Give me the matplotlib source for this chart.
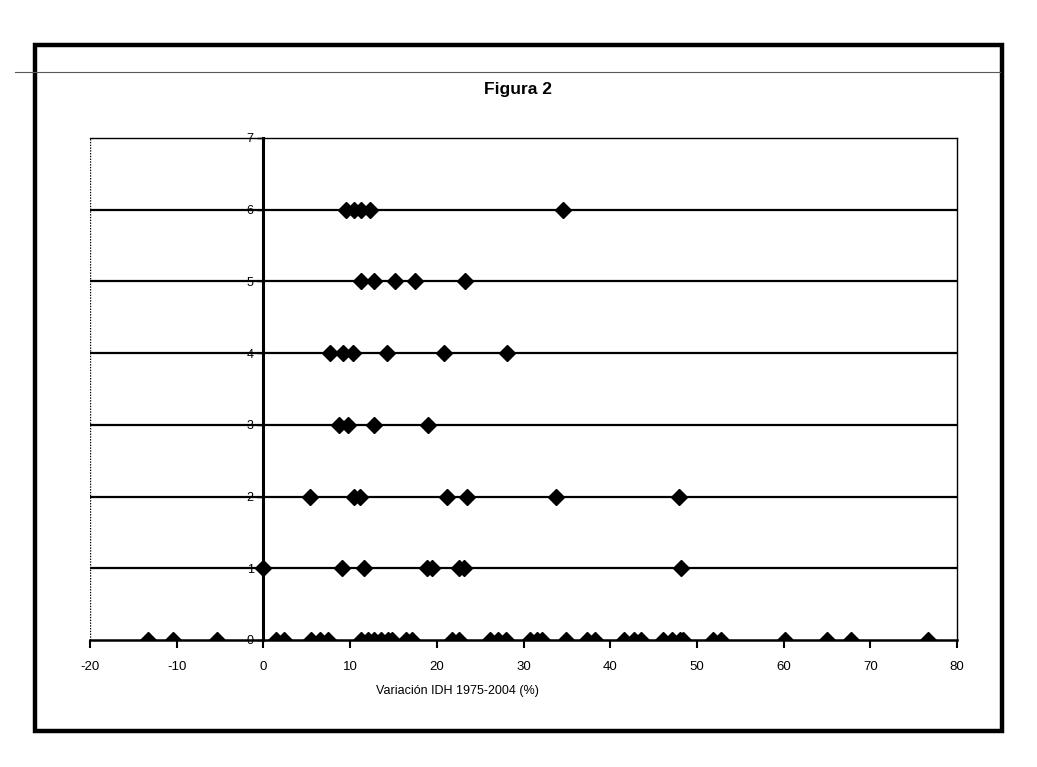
import matplotlib
matplotlib.use("Agg")
import matplotlib.pyplot as plt
from matplotlib.patches import Rectangle
from matplotlib.lines import Line2D

# data (x = variacion IDH %, one row per group)
row0 = [-13.3, -10.4, -5.4, 1.4, 2.4, 5.5, 6.5, 7.5, 11.3, 12.1, 12.8, 13.6,
        14.4, 14.8, 16.5, 17.1, 21.7, 22.5, 26.1, 27.1, 28.0, 30.7, 31.5, 32.1,
        34.9, 37.3, 38.2, 41.6, 42.7, 43.6, 46.1, 47.1, 48.0, 48.4, 51.9, 52.8,
        60.2, 65.0, 67.8, 76.6]
row1 = [0.0, 9.1, 11.6, 18.9, 19.4, 22.6, 23.1, 48.2]
row2 = [5.4, 10.5, 11.1, 21.2, 23.5, 33.8, 47.9]
row3 = [8.7, 9.7, 12.8, 19.0]
row4 = [7.7, 9.2, 10.3, 14.3, 20.8, 28.1]
row5 = [11.2, 12.8, 15.2, 17.5, 23.3]
row6 = [9.5, 10.4, 11.3, 12.3, 34.6]
rows = [row0, row1, row2, row3, row4, row5, row6]

x_ticks = [-20, -10, 0, 10, 20, 30, 40, 50, 60, 70, 80]
y_ticks = [0, 1, 2, 3, 4, 5, 6, 7]

plt.rcParams['font.family'] = ['Liberation Sans', 'DejaVu Sans']
plt.rcParams['axes.unicode_minus'] = False

fig = plt.figure(figsize=(10.37, 7.67), dpi=100)
ax = fig.add_axes([0.0868, 0.1656, 0.8361, 0.6545])

ax.set_xlim(-20, 80)
ax.set_ylim(0, 7)

# horizontal grid lines at each level
for lev in y_ticks[1:-1]:
    ax.axhline(lev, color='black', lw=1.6, zorder=1)

for lev, xs in enumerate(rows):
    ax.plot(xs, [lev] * len(xs), linestyle='none', marker='D', ms=8,
            color='black', mec='black', zorder=3)

# y axis crosses at x = 0
ax.spines['left'].set_position(('data', 0))
ax.spines['left'].set_linewidth(2.2)
ax.spines['bottom'].set_linewidth(1.8)
ax.spines['top'].set_linestyle((0, (1, 1)))
ax.spines['top'].set_linewidth(1.0)
ax.spines['right'].set_linewidth(1.0)
ax.axvline(-20, color='black', lw=1.0, ls=(0, (1, 1)), zorder=1)

ax.set_xticks(x_ticks)
ax.set_yticks(y_ticks)
ax.tick_params(axis='x', direction='out', length=6, width=1.5, pad=9,
               labelsize=9.5)
ax.tick_params(axis='y', direction='out', length=4, width=1.0, pad=3,
               labelsize=9)

fig.text(0.441, 0.099, 'Variación IDH 1975-2004 (%)', ha='center', va='center',
         fontsize=9)
fig.text(0.50, 0.883, 'Figura 2', ha='center', va='center', fontsize=12.5,
         fontweight='bold')

# frame around the chart and the page rule line
fig.patches.append(Rectangle((0.0338, 0.047), 0.9324, 0.8943,
                             transform=fig.transFigure, fill=False,
                             edgecolor='black', lw=3.2))
fig.lines.append(Line2D([0.0145, 0.964], [0.906, 0.906],
                        transform=fig.transFigure, color='0.35', lw=0.8))

fig.savefig('out.png', dpi=100)
